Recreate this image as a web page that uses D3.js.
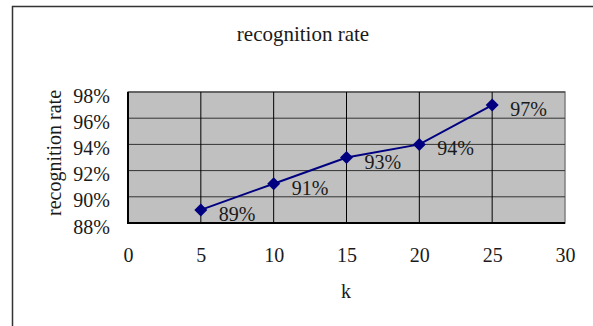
<!DOCTYPE html>
<html>
<head>
<meta charset="utf-8">
<script src="https://cdn.jsdelivr.net/npm/d3@7"></script>
<style>
  html, body { margin: 0; padding: 0; background: #fff; }
  svg { display: block; }
  text { font-family: "Liberation Serif", "DejaVu Serif", serif; fill: #1a1a1a; }
</style>
</head>
<body>
<svg id="chart" width="593" height="326"></svg>
<script>
// Recognition rate for each k
const kValues = [5, 10, 15, 20, 25];
const rates = [0.89, 0.91, 0.93, 0.94, 0.97];
const xTicks = [0, 5, 10, 15, 20, 25, 30];
const yTicks = [0.88, 0.90, 0.92, 0.94, 0.96, 0.98];

const svg = d3.select("#chart");
const W = 593, H = 326;
const plot = { left: 128, right: 565, top: 92, bottom: 223 };

const x = d3.scaleLinear().domain([0, 30]).range([plot.left, plot.right]);
const y = d3.scaleLinear().domain([0.88, 0.98]).range([plot.bottom, plot.top]);
const pct = d3.format(".0%");

// Outer chart frame
svg.append("path")
  .attr("d", `M12.5,${H} V6.5 H${W}`)
  .attr("fill", "none").attr("stroke", "#333").attr("stroke-width", 1.5);

// Title
svg.append("text")
  .attr("x", 303).attr("y", 41)
  .attr("text-anchor", "middle").attr("font-size", 21)
  .text("recognition rate");

// Plot background
svg.append("rect")
  .attr("x", plot.left).attr("y", plot.top)
  .attr("width", plot.right - plot.left).attr("height", plot.bottom - plot.top)
  .attr("fill", "#c0c0c0").attr("stroke", "#808080").attr("stroke-width", 1.5);

// Horizontal gridlines
svg.append("g").selectAll("line")
  .data(yTicks.slice(1))
  .join("line")
  .attr("x1", plot.left).attr("x2", plot.right)
  .attr("y1", d => y(d)).attr("y2", d => y(d))
  .attr("stroke", "#333").attr("stroke-width", 1);

// Vertical gridlines
svg.append("g").selectAll("line")
  .data(xTicks.slice(1, -1))
  .join("line")
  .attr("x1", d => x(d)).attr("x2", d => x(d))
  .attr("y1", plot.top).attr("y2", plot.bottom)
  .attr("stroke", "#000").attr("stroke-width", 1);

// Axis lines (left and bottom)
svg.append("path")
  .attr("d", `M${plot.left},${plot.top} V${plot.bottom} H${plot.right}`)
  .attr("fill", "none").attr("stroke", "#000").attr("stroke-width", 2);

// Y axis labels
const yAxis = d3.axisLeft(y).tickValues(yTicks).tickFormat(pct).tickSize(0).tickPadding(18);
const gy = svg.append("g").attr("transform", `translate(${plot.left},0)`).call(yAxis);
gy.select(".domain").remove();
gy.selectAll("text").attr("font-size", 20).attr("font-family", "Liberation Serif").attr("fill", "#1a1a1a")
  .attr("dy", "0.5em");

// X axis labels
const xAxis = d3.axisBottom(x).tickValues(xTicks).tickSize(0).tickPadding(25);
const gx = svg.append("g").attr("transform", `translate(0,${plot.bottom})`).call(xAxis);
gx.select(".domain").remove();
gx.selectAll("text").attr("font-size", 20).attr("font-family", "Liberation Serif").attr("fill", "#1a1a1a");

// Axis titles
svg.append("text")
  .attr("x", 346).attr("y", 298)
  .attr("text-anchor", "middle").attr("font-size", 20)
  .text("k");
svg.append("text")
  .attr("transform", `translate(61,153) rotate(-90)`)
  .attr("text-anchor", "middle").attr("font-size", 20)
  .text("recognition rate");

// Series line
const data = kValues.map((k, i) => ({ k, r: rates[i] }));
svg.append("path")
  .datum(data)
  .attr("d", d3.line().x(d => x(d.k)).y(d => y(d.r)))
  .attr("fill", "none").attr("stroke", "#000080").attr("stroke-width", 2);

// Diamond markers
svg.append("g").selectAll("path")
  .data(data)
  .join("path")
  .attr("transform", d => `translate(${x(d.k)},${y(d.r)})`)
  .attr("d", "M0,-6.5 L6.5,0 L0,6.5 L-6.5,0 Z")
  .attr("fill", "#000080");

// Value labels
svg.append("g").selectAll("text")
  .data(data)
  .join("text")
  .attr("x", d => x(d.k) + 18)
  .attr("y", d => y(d.r) + 11)
  .attr("font-size", 20)
  .text(d => pct(d.r));
</script>
</body>
</html>
